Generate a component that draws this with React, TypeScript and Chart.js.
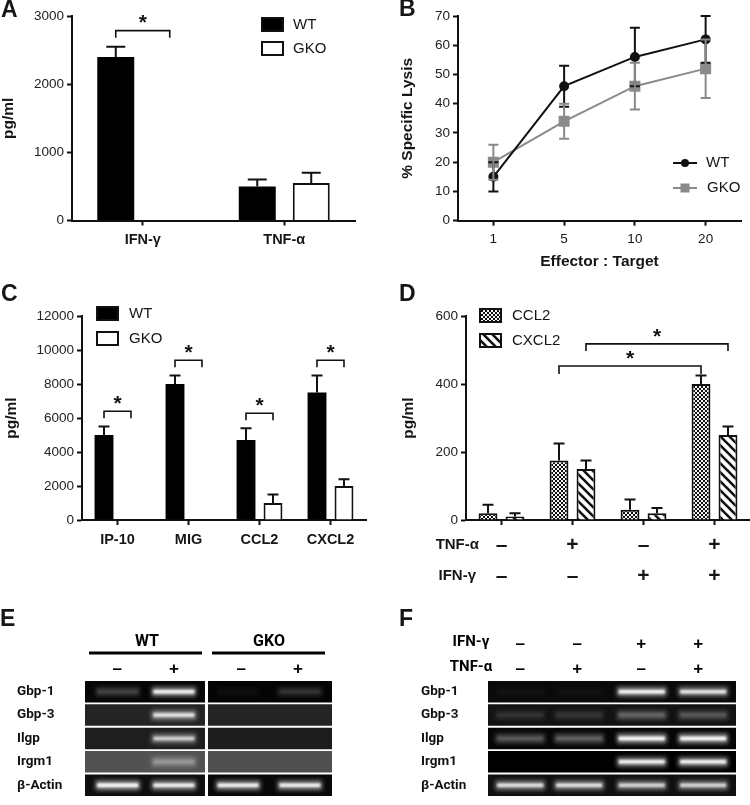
import React, { useEffect, useRef } from "react";
import { Chart, registerables } from "chart.js";

Chart.register(...registerables);

// ---------- Data ----------
const aCategories = ["IFN-γ", "TNF-α"];
const aWT = [2400, 500];
const aGKO = [0, 550];
const aWTTop = [2550, 600];
const aGKOTop = [0, 700];
const aBracketValues = [2785];

const bCategories = ["1", "5", "10", "20"];
const bWT = [15, 46, 56, 62];
const bWTLow = [10, 39, 46, 54];
const bWTHigh = [20, 53, 66, 70];
const bGKO = [20, 34, 46, 52];
const bGKOLow = [14, 28, 38, 42];
const bGKOHigh = [26, 40, 54, 62];

const cCategories = ["IP-10", "MIG", "CCL2", "CXCL2"];
const cWT = [5000, 8000, 4700, 7500];
const cWTTop = [5500, 8500, 5400, 8500];
const cGKO = [0, 0, 1000, 2000];
const cGKOTop = [0, 0, 1500, 2400];
const cBracketValues = [6400, 9400, 6280, 9400];

const dTreatments = [
  ["–", "–"],
  ["+", "–"],
  ["–", "+"],
  ["+", "+"],
];
const dCCL2 = [20, 175, 30, 400];
const dCCL2Top = [45, 225, 60, 425];
const dCXCL2 = [10, 150, 20, 250];
const dCXCL2Top = [20, 175, 35, 275];
const dBracketValues = [453, 518];

const geneRows = ["Gbp-1", "Gbp-3", "Ilgp", "Irgm1", "β-Actin"];

const eLaneCentres = [0.53, 1.44, 2.48, 3.48];
const eMarks = [0.52, 1.44, 2.53, 3.45];
const eMarkLabels = ["–", "+", "–", "+"];
const eLeftGrey = [6, 36, 30, 82, 14];
const eRightGrey = [4, 36, 28, 80, 8];
const eLane1 = [0.32, 0, 0, 0, 1];
const eLane2 = [0.95, 0.85, 0.72, 0.55, 0.92];
const eLane3 = [0.06, 0, 0, 0, 0.92];
const eLane4 = [0.25, 0, 0, 0, 0.92];

const fLaneCentres = [0.52, 1.47, 2.48, 3.47];
const fMarks = [0.52, 1.44, 2.47, 3.39];
const fMarkLabels = [
  ["–", "–"],
  ["–", "+"],
  ["+", "–"],
  ["+", "+"],
];
const fGrey = [10, 18, 6, 0, 16];
const fLane1 = [0.05, 0.18, 0.45, 0, 0.82];
const fLane2 = [0.04, 0.2, 0.5, 0, 0.82];
const fLane3 = [0.95, 0.48, 1, 0.95, 0.75];
const fLane4 = [0.85, 0.4, 1, 0.95, 0.75];

// ---------- Style ----------
const SANS = '"Liberation Sans", Arial, sans-serif';
const NARROW = 'Roboto, "Liberation Sans", sans-serif';
const INK = "#161616";
const GREY = "#8a8a8a";

type Region = { x: number; y: number; w: number; h: number };
type Plot = { left: number; top: number; right: number; bottom: number };

function frame(r: Region, p: Plot, yTitleX: number, xBottom: number) {
  const padLeft = Math.max(0, yTitleX - r.x);
  return {
    padding: {
      left: padLeft,
      top: p.top - r.y,
      right: r.x + r.w - p.right,
      bottom: r.y + r.h - xBottom,
    },
    yWidth: p.left - r.x - padLeft,
    xHeight: xBottom - p.bottom,
  };
}

function makeCheckerPattern() {
  const t = document.createElement("canvas");
  t.width = 4;
  t.height = 4;
  const c = t.getContext("2d")!;
  c.fillStyle = "#f4f4f4";
  c.fillRect(0, 0, 4, 4);
  c.fillStyle = "#111";
  c.fillRect(0, 0, 2, 2);
  c.fillRect(2, 2, 2, 2);
  return c.createPattern(t, "repeat")!;
}

function makeStripePattern() {
  const t = document.createElement("canvas");
  t.width = 9;
  t.height = 9;
  const c = t.getContext("2d")!;
  c.fillStyle = "#fff";
  c.fillRect(0, 0, 9, 9);
  c.strokeStyle = "#111";
  c.lineWidth = 2.6;
  [-9, 0, 9].forEach((o) => {
    c.beginPath();
    c.moveTo(o - 2, -2);
    c.lineTo(o + 11, 11);
    c.stroke();
  });
  return c.createPattern(t, "repeat")!;
}

type Fx = {
  region: Region;
  errors?: { ds: number; high: number[]; low?: number[]; cap: number; color?: string }[];
  brackets?: { from: [number, number]; to: [number, number]; value: number; leg: number }[];
  texts?: { t: string; x: number; y: number; font: string; align?: CanvasTextAlign; color?: string }[];
  rules?: { x0: number; x1: number; y: number; w: number }[];
  swatches?: { x: number; y: number; w: number; h: number; fill: any }[];
  keys?: { x0: number; x1: number; y: number; color: string; marker: "circle" | "square" }[];
};

function fxPlugin(fx: Fx) {
  return {
    id: "fx",
    beforeDatasetDraw(chart: any, args: any) {
      const blur = chart.data.datasets[args.index].blur;
      if (blur) {
        chart.ctx.save();
        chart.ctx.filter = `blur(${blur}px)`;
      }
    },
    afterDatasetDraw(chart: any, args: any) {
      if (chart.data.datasets[args.index].blur) chart.ctx.restore();
    },
    afterDraw(chart: any) {
      const ctx: CanvasRenderingContext2D = chart.ctx;
      const y = chart.scales.y;
      const ox = fx.region.x;
      const oy = fx.region.y;
      ctx.save();
      (fx.errors || []).forEach((e) => {
        const meta = chart.getDatasetMeta(e.ds);
        const values = chart.data.datasets[e.ds].data;
        ctx.strokeStyle = e.color || "#111";
        ctx.lineWidth = 2;
        meta.data.forEach((el: any, i: number) => {
          if (e.high[i] === values[i]) return;
          const px = el.x;
          const hi = y.getPixelForValue(e.high[i]);
          const lo = y.getPixelForValue(e.low ? e.low[i] : values[i]);
          ctx.beginPath();
          ctx.moveTo(px, lo);
          ctx.lineTo(px, hi);
          ctx.moveTo(px - e.cap, hi);
          ctx.lineTo(px + e.cap, hi);
          if (e.low) {
            ctx.moveTo(px - e.cap, lo);
            ctx.lineTo(px + e.cap, lo);
          }
          ctx.stroke();
        });
      });
      (fx.brackets || []).forEach((b) => {
        const x0 = chart.getDatasetMeta(b.from[0]).data[b.from[1]].x;
        const x1 = chart.getDatasetMeta(b.to[0]).data[b.to[1]].x;
        const py = y.getPixelForValue(b.value);
        ctx.strokeStyle = "#111";
        ctx.lineWidth = 1.6;
        ctx.beginPath();
        ctx.moveTo(x0, py + b.leg);
        ctx.lineTo(x0, py);
        ctx.lineTo(x1, py);
        ctx.lineTo(x1, py + b.leg);
        ctx.stroke();
        ctx.fillStyle = "#111";
        ctx.font = `bold 21px ${SANS}`;
        ctx.textAlign = "center";
        ctx.textBaseline = "middle";
        ctx.fillText("*", (x0 + x1) / 2, py - 7);
      });
      (fx.rules || []).forEach((r) => {
        ctx.fillStyle = "#000";
        ctx.fillRect(r.x0 - ox, r.y - oy - r.w / 2, r.x1 - r.x0, r.w);
      });
      (fx.swatches || []).forEach((s) => {
        ctx.fillStyle = s.fill;
        ctx.strokeStyle = "#111";
        ctx.lineWidth = 2;
        ctx.fillRect(s.x - ox, s.y - oy, s.w, s.h);
        ctx.strokeRect(s.x - ox + 1, s.y - oy + 1, s.w - 2, s.h - 2);
      });
      (fx.keys || []).forEach((k) => {
        ctx.strokeStyle = k.color;
        ctx.fillStyle = k.color;
        ctx.lineWidth = 2;
        ctx.beginPath();
        ctx.moveTo(k.x0 - ox, k.y - oy);
        ctx.lineTo(k.x1 - ox, k.y - oy);
        ctx.stroke();
        const cx = (k.x0 + k.x1) / 2 - ox;
        if (k.marker === "circle") {
          ctx.beginPath();
          ctx.arc(cx, k.y - oy, 4, 0, Math.PI * 2);
          ctx.fill();
        } else {
          ctx.fillRect(cx - 4.5, k.y - oy - 4.5, 9, 9);
        }
      });
      (fx.texts || []).forEach((t) => {
        ctx.fillStyle = t.color || INK;
        ctx.font = t.font;
        ctx.textAlign = t.align || "left";
        ctx.textBaseline = "middle";
        ctx.fillText(t.t, t.x - ox, t.y - oy);
      });
      ctx.restore();
    },
  };
}

function axes(f: ReturnType<typeof frame>, yMax: number, yStep: number, yTitle: string, xTickFont: any, xPad: number, xTitle?: string, xTitleFont?: any) {
  return {
    x: {
      offset: true,
      afterFit: (s: any) => {
        s.height = f.xHeight;
      },
      border: { display: true, width: 2, color: "#111" },
      grid: { display: true, offset: false, drawOnChartArea: false, drawTicks: true, tickLength: 5, tickWidth: 2, tickColor: "#111" },
      ticks: { color: INK, font: xTickFont, padding: xPad, autoSkip: false, maxRotation: 0 },
      title: xTitle
        ? { display: true, text: xTitle, color: INK, font: xTitleFont, padding: 0 }
        : { display: false },
    },
    y: {
      min: 0,
      max: yMax,
      afterFit: (s: any) => {
        s.width = f.yWidth;
      },
      border: { display: true, width: 2, color: "#111" },
      grid: { display: true, drawOnChartArea: false, drawTicks: true, tickLength: 5, tickWidth: 2, tickColor: "#111" },
      ticks: { stepSize: yStep, color: "#222", font: { family: SANS, size: 13.5 }, padding: 3, callback: (v: any) => String(v) },
      title: { display: true, text: yTitle, color: INK, font: { family: SANS, size: 15.5, weight: "bold", lineHeight: 1 }, padding: 0 },
    },
  };
}

function barChart(canvas: HTMLCanvasElement, r: Region, p: Plot, yTitleX: number, xBottom: number, labels: any[], datasets: any[], scales: (f: any) => any, fx: Fx) {
  const f = frame(r, p, yTitleX, xBottom);
  return new Chart(canvas, {
    type: "bar",
    data: { labels, datasets },
    options: {
      responsive: false,
      animation: false,
      layout: { padding: f.padding },
      plugins: { legend: { display: false }, tooltip: { enabled: false } },
      scales: scales(f),
    } as any,
    plugins: [fxPlugin(fx) as any],
  });
}

function gelChart(canvas: HTMLCanvasElement, r: Region, p: Plot, labelX: number, greys: { span: [number, number]; grey: number[] }[], lanes: number[][], centres: number[], half: number, marks: number[], markLabels: any[], markPad: number, topHeight: number, fx: Fx) {
  const f = frame(r, p, labelX, r.y + r.h);
  const rowsOf = (fn: (i: number) => any) => geneRows.map((_, i) => fn(i));
  const datasets: any[] = [];
  greys.forEach((g) => {
    datasets.push({
      data: rowsOf(() => g.span),
      backgroundColor: g.grey.map((v) => `rgb(${v},${v},${v})`),
      barPercentage: 0.92,
      categoryPercentage: 1,
      grouped: false,
      order: 10,
    });
  });
  lanes.forEach((lane, li) => {
    datasets.push({
      data: rowsOf(() => [centres[li] - half, centres[li] + half]),
      backgroundColor: lane.map((v) => `rgba(255,255,255,${v * 0.55})`),
      barPercentage: 0.4,
      categoryPercentage: 1,
      grouped: false,
      blur: 2.2,
      order: 5,
    });
    datasets.push({
      data: rowsOf(() => [centres[li] - half + 0.03, centres[li] + half - 0.03]),
      backgroundColor: lane.map((v) => `rgba(255,255,255,${v > 0.6 ? v : v * 0.3})`),
      barPercentage: 0.15,
      categoryPercentage: 1,
      grouped: false,
      blur: 0.9,
      order: 1,
    });
  });
  return new Chart(canvas, {
    type: "bar",
    data: { labels: geneRows, datasets },
    options: {
      indexAxis: "y",
      responsive: false,
      animation: false,
      layout: { padding: { ...f.padding, top: p.top - r.y - topHeight } },
      plugins: { legend: { display: false }, tooltip: { enabled: false } },
      scales: {
        x: {
          position: "top",
          min: 0,
          max: 4,
          afterFit: (s: any) => {
            s.height = topHeight;
          },
          afterBuildTicks: (s: any) => {
            s.ticks = marks.map((value) => ({ value }));
          },
          border: { display: false },
          grid: { display: false, drawTicks: false },
          ticks: {
            color: "#000",
            autoSkip: false,
            maxRotation: 0,
            padding: markPad,
            font: { family: SANS, size: 17, weight: "bold", lineHeight: "25px" },
            callback: (_: any, i: number) => markLabels[i],
          },
        },
        y: {
          stacked: false,
          afterFit: (s: any) => {
            s.width = f.yWidth;
          },
          border: { display: false },
          grid: { display: false, drawTicks: false },
          ticks: { crossAlign: "far", color: "#111", padding: 0, font: { family: NARROW, size: 13.5, weight: "bold" } },
        },
      },
    } as any,
    plugins: [fxPlugin(fx) as any],
  });
}

const REGIONS: Region[] = [
  { x: 0, y: 0, w: 375, h: 280 },
  { x: 375, y: 0, w: 375, h: 280 },
  { x: 0, y: 280, w: 375, h: 320 },
  { x: 375, y: 280, w: 375, h: 320 },
  { x: 0, y: 600, w: 375, h: 205 },
  { x: 375, y: 600, w: 375, h: 205 },
];

const letter = `bold 23px ${SANS}`;
const legendFont = `15px ${SANS}`;
const catFont = { family: SANS, size: 14.5, weight: "bold" };

export default function App() {
  const refs = useRef<(HTMLCanvasElement | null)[]>([]);

  useEffect(() => {
    const c = refs.current as HTMLCanvasElement[];
    const checker = makeCheckerPattern();
    const stripes = makeStripePattern();
    const charts: Chart[] = [];

    // A
    charts.push(
      barChart(
        c[0], REGIONS[0], { left: 72, top: 16, right: 355, bottom: 220.5 }, 0.5, 248, aCategories,
        [
          { label: "WT", data: aWT, backgroundColor: "#000", borderColor: "#000", borderWidth: 0, barPercentage: 0.685, categoryPercentage: 0.763 },
          { label: "GKO", data: aGKO, backgroundColor: "#fff", borderColor: "#111", borderWidth: 2, barPercentage: 0.685, categoryPercentage: 0.763 },
        ],
        (f) => axes(f, 3000, 1000, "pg/ml", catFont, 6),
        {
          region: REGIONS[0],
          errors: [{ ds: 0, high: aWTTop, cap: 9.5 }, { ds: 1, high: aGKOTop, cap: 9.5 }],
          brackets: [{ from: [0, 0], to: [1, 0], value: aBracketValues[0], leg: 7 }],
          swatches: [
            { x: 261, y: 17, w: 23, h: 15, fill: "#000" },
            { x: 261, y: 41, w: 23, h: 15, fill: "#fff" },
          ],
          texts: [
            { t: "A", x: 1, y: 11, font: letter },
            { t: "WT", x: 293, y: 24.5, font: legendFont },
            { t: "GKO", x: 293, y: 49, font: legendFont },
          ],
        }
      )
    );

    // B
    {
      const r = REGIONS[1];
      const f = frame(r, { left: 458, top: 16, right: 741, bottom: 220.7 }, 399.5, 271);
      charts.push(
        new Chart(c[1], {
          type: "line",
          data: {
            labels: bCategories,
            datasets: [
              { label: "WT", data: bWT, borderColor: "#111", backgroundColor: "#111", borderWidth: 2, pointRadius: 4, pointStyle: "circle", tension: 0 },
              { label: "GKO", data: bGKO, borderColor: GREY, backgroundColor: GREY, borderWidth: 2, pointRadius: 6.4, pointStyle: "rect", tension: 0 },
            ],
          },
          options: {
            responsive: false,
            animation: false,
            layout: { padding: f.padding },
            plugins: { legend: { display: false }, tooltip: { enabled: false } },
            scales: axes(f, 70, 10, "% Specific Lysis", { family: SANS, size: 13.5 }, 5, "Effector : Target", { family: SANS, size: 15.5, weight: "bold", lineHeight: 1.2 }),
          } as any,
          plugins: [
            fxPlugin({
              region: r,
              errors: [
                { ds: 0, high: bWTHigh, low: bWTLow, cap: 5 },
                { ds: 1, high: bGKOHigh, low: bGKOLow, cap: 5, color: GREY },
              ],
              keys: [
                { x0: 673, x1: 697, y: 163, color: "#111", marker: "circle" },
                { x0: 673, x1: 697, y: 188, color: GREY, marker: "square" },
              ],
              texts: [
                { t: "B", x: 399, y: 10, font: letter },
                { t: "WT", x: 706, y: 163, font: legendFont },
                { t: "GKO", x: 707, y: 188, font: legendFont },
              ],
            }) as any,
          ],
        })
      );
    }

    // C
    charts.push(
      barChart(
        c[2], REGIONS[2], { left: 82, top: 316, right: 366, bottom: 520 }, 3.5, 546, cCategories,
        [
          { label: "WT", data: cWT, backgroundColor: "#000", borderWidth: 0, barPercentage: 0.7, categoryPercentage: 0.76 },
          { label: "GKO", data: cGKO, backgroundColor: "#fff", borderColor: "#111", borderWidth: 2, barPercentage: 0.7, categoryPercentage: 0.76 },
        ],
        (f) => axes(f, 12000, 2000, "pg/ml", catFont, 6),
        {
          region: REGIONS[2],
          errors: [{ ds: 0, high: cWTTop, cap: 5.5 }, { ds: 1, high: cGKOTop, cap: 5.5 }],
          brackets: cBracketValues.map((value, i) => ({ from: [0, i] as [number, number], to: [1, i] as [number, number], value, leg: 7 })),
          swatches: [
            { x: 96, y: 306, w: 23, h: 15, fill: "#000" },
            { x: 96, y: 331, w: 23, h: 15, fill: "#fff" },
          ],
          texts: [
            { t: "C", x: 1, y: 295, font: letter },
            { t: "WT", x: 129, y: 313.5, font: legendFont },
            { t: "GKO", x: 129, y: 338.5, font: legendFont },
          ],
        }
      )
    );

    // D
    charts.push(
      barChart(
        c[3], REGIONS[3], { left: 466, top: 316, right: 750, bottom: 520 }, 400.5, 592, dTreatments,
        [
          { label: "CCL2", data: dCCL2, backgroundColor: checker, borderColor: "#111", borderWidth: 2, barPercentage: 0.7, categoryPercentage: 0.76 },
          { label: "CXCL2", data: dCXCL2, backgroundColor: stripes, borderColor: "#111", borderWidth: 2, barPercentage: 0.7, categoryPercentage: 0.76 },
        ],
        (f) => axes(f, 600, 200, "pg/ml", { family: SANS, size: 21, weight: "bold", lineHeight: "31px" }, 4.5),
        {
          region: REGIONS[3],
          errors: [{ ds: 0, high: dCCL2Top, cap: 5.5 }, { ds: 1, high: dCXCL2Top, cap: 5.5 }],
          brackets: [
            { from: [0, 1], to: [0, 3], value: dBracketValues[0], leg: 8 },
            { from: [1, 1], to: [1, 3], value: dBracketValues[1], leg: 7 },
          ],
          swatches: [
            { x: 479, y: 308, w: 23, h: 15, fill: checker },
            { x: 479, y: 333, w: 23, h: 15, fill: stripes },
          ],
          texts: [
            { t: "D", x: 399, y: 295, font: letter },
            { t: "CCL2", x: 512, y: 315.5, font: legendFont },
            { t: "CXCL2", x: 512, y: 340.5, font: legendFont },
            { t: "TNF-α", x: 479, y: 545, font: `bold 15px ${SANS}`, align: "right" },
            { t: "IFN-γ", x: 476, y: 576, font: `bold 15px ${SANS}`, align: "right" },
          ],
        }
      )
    );

    // E
    charts.push(
      gelChart(
        c[4], REGIONS[4], { left: 85, top: 680, right: 332, bottom: 805 }, 17,
        [
          { span: [0, 1.943], grey: eLeftGrey },
          { span: [1.992, 4], grey: eRightGrey },
        ],
        [eLane1, eLane2, eLane3, eLane4], eLaneCentres, 0.36, eMarks, eMarkLabels, -2, 22,
        {
          region: REGIONS[4],
          rules: [
            { x0: 89, x1: 202, y: 653, w: 3 },
            { x0: 212, x1: 325, y: 653, w: 3 },
          ],
          texts: [
            { t: "E", x: 0, y: 620, font: letter },
            { t: "WT", x: 147, y: 642, font: `bold 16px ${NARROW}`, align: "center", color: "#000" },
            { t: "GKO", x: 269, y: 642, font: `bold 16px ${NARROW}`, align: "center", color: "#000" },
          ],
        }
      )
    );

    // F
    charts.push(
      gelChart(
        c[5], REGIONS[5], { left: 488, top: 680, right: 736, bottom: 805 }, 421,
        [{ span: [0, 4], grey: fGrey }],
        [fLane1, fLane2, fLane3, fLane4], fLaneCentres, 0.4, fMarks, fMarkLabels, -2, 47,
        {
          region: REGIONS[5],
          texts: [
            { t: "F", x: 399, y: 620, font: letter },
            { t: "IFN-γ", x: 471, y: 642, font: `bold 15px ${NARROW}`, align: "center", color: "#000" },
            { t: "TNF-α", x: 471, y: 667, font: `bold 15px ${NARROW}`, align: "center", color: "#000" },
          ],
        }
      )
    );

    return () => charts.forEach((ch) => ch.destroy());
  }, []);

  return (
    <div style={{ position: "absolute", left: 0, top: 0, width: 750, height: 805, background: "#fff", overflow: "hidden" }}>
      {REGIONS.map((r, i) => (
        <canvas
          key={i}
          ref={(el) => {
            refs.current[i] = el;
          }}
          width={r.w}
          height={r.h}
          style={{ position: "absolute", left: r.x, top: r.y, width: r.w, height: r.h, display: "block" }}
        />
      ))}
    </div>
  );
}
